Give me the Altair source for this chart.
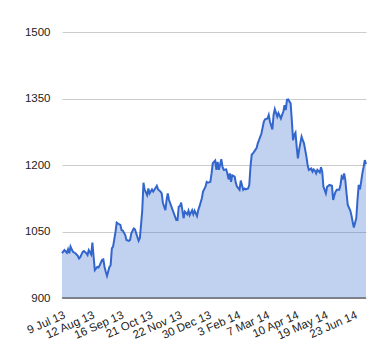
import altair as alt
import pandas as pd

# trading-day index (0 = 9 Jul 13) and closing values
idx = [0, 2, 4, 5, 6, 7, 9, 11, 13, 14, 15, 17, 18, 20, 21, 22, 24, 25, 26, 27,
       29, 30, 31, 33, 34, 35, 36, 37, 39, 40, 41, 42, 44, 45, 46, 48, 49, 50, 52, 53,
       55, 56, 57, 59, 60, 61, 63, 64, 65, 66, 67, 68, 70, 71, 72, 74, 75, 76, 78, 79,
       81, 82, 83, 85, 86, 87, 88, 90, 91, 92, 94, 95, 96, 97, 98, 100, 101, 103, 104, 105,
       107, 108, 109, 111, 112, 113, 115, 116, 118, 119, 120, 122, 123, 124, 126, 127, 128, 129, 131, 132,
       133, 135, 136, 137, 138, 139, 140, 142, 143, 144, 146, 147, 149, 150, 151, 153, 154, 155, 156, 157,
       159, 160, 161, 162, 164, 166, 167, 169, 170, 171, 173, 174, 175, 177, 178, 180, 181, 182, 183, 184,
       185, 186, 188, 189, 190, 191, 192, 193, 194, 195, 197, 198, 199, 201, 202, 203, 205, 206, 207, 208,
       209, 210, 212, 213, 214, 215, 216, 217, 218, 219, 220, 222, 223, 224, 225, 226, 228, 229, 230, 231,
       232, 233, 234, 235, 237, 238, 239, 240, 242, 243, 244, 245, 246, 247, 248, 249, 250]
values = [1001, 1008, 1002, 1010, 1001, 1016, 1004, 1001, 995, 989, 992, 1004, 1006, 1001, 997, 1008, 998, 1025, 993, 963,
          970, 969, 974, 986, 987, 970, 959, 950, 970, 974, 1012, 1016, 1049, 1070, 1068, 1065, 1053, 1052, 1042, 1031,
          1029, 1031, 1046, 1057, 1055, 1046, 1029, 1035, 1065, 1098, 1160, 1144, 1132, 1147, 1136, 1145, 1140, 1144, 1153, 1145,
          1140, 1136, 1114, 1098, 1121, 1136, 1121, 1106, 1098, 1091, 1076, 1076, 1106, 1107, 1115, 1080, 1095, 1089, 1097, 1087,
          1098, 1089, 1097, 1085, 1098, 1106, 1125, 1140, 1151, 1162, 1160, 1162, 1181, 1204, 1210, 1189, 1207, 1189, 1213, 1196,
          1189, 1190, 1181, 1168, 1181, 1162, 1177, 1174, 1159, 1151, 1144, 1165, 1144, 1147, 1145, 1147, 1155, 1196, 1223, 1226,
          1234, 1238, 1249, 1256, 1271, 1298, 1303, 1305, 1313, 1298, 1280, 1313, 1326, 1309, 1317, 1305, 1313, 1320, 1335, 1324,
          1347, 1348, 1339, 1301, 1256, 1268, 1273, 1241, 1215, 1234, 1264, 1256, 1249, 1219, 1200, 1189, 1192, 1185, 1190, 1187,
          1181, 1189, 1183, 1195, 1185, 1151, 1144, 1136, 1151, 1153, 1155, 1153, 1121, 1132, 1140, 1144, 1144, 1155, 1174, 1170,
          1181, 1166, 1136, 1110, 1098, 1087, 1072, 1059, 1080, 1121, 1155, 1145, 1162, 1181, 1195, 1211, 1202]

tick_idx = [0, 24, 48, 72, 96, 120, 144, 168, 192, 216, 240]
tick_labels = ["9 Jul 13", "12 Aug 13", "16 Sep 13", "21 Oct 13", "22 Nov 13", "30 Dec 13",
               "3 Feb 14", "7 Mar 14", "10 Apr 14", "19 May 14", "23 Jun 14"]
y_ticks = [900, 1050, 1200, 1350, 1500]

df = pd.DataFrame({"i": idx, "v": values})
df_base = pd.DataFrame({"i": [0], "v": [900]})

label_js = "[" + ",".join(f"'{s}'" for s in tick_labels) + "]"

x_scale = alt.Scale(domain=[0, 250], nice=False, zero=False)
y_scale = alt.Scale(domain=[900, 1500], nice=False, zero=False)

x = alt.X("i:Q", scale=x_scale,
          axis=alt.Axis(values=tick_idx, labelExpr=f"{label_js}[round(datum.value/24)]",
                        title=None, grid=False, domain=False, ticks=False,
                        labelAngle=336, labelAlign="right", labelBaseline="top",
                        labelPadding=11, labelFontSize=11.5, labelFont="Liberation Sans",
                        labelColor="#222222", labelOverlap=False, labelBound=False,
                        labelFlush=False))
y = alt.Y("v:Q", scale=y_scale,
          axis=alt.Axis(values=y_ticks, format="d", title=None, grid=True, gridColor="#cccccc",
                        domain=False, ticks=False, labelPadding=12, labelFontSize=11.5,
                        labelFont="Liberation Sans", labelColor="#222222"))

base = alt.Chart(df)
area = base.mark_area(color="#3366CC", opacity=0.3).encode(x=x, y=y, y2=alt.datum(900))
line = base.mark_line(color="#3366CC", strokeWidth=2).encode(x=x, y=y)
baseline = alt.Chart(df_base).mark_rule(color="#333333", strokeWidth=1).encode(y=y)

chart = alt.layer(area, line, baseline).properties(
    width=304, height=266,
    autosize=alt.AutoSizeParams(type="none"),
    padding={"left": 54, "top": 24, "right": 6, "bottom": 60},
).configure_view(stroke=None)

chart.save("out.html", embed_options={"renderer": "svg", "actions": False})
